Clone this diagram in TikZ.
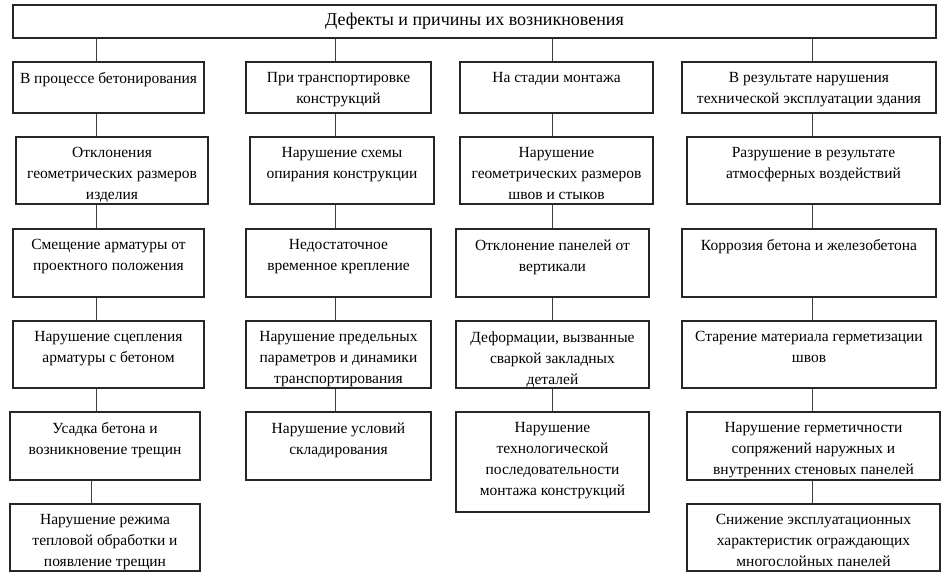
\documentclass[tikz,border=0pt]{standalone}
\usepackage{fontspec}
\setmainfont{Liberation Serif}
\newcommand\mybox[6]{%
  \node[box, minimum width={(#4-#2)*1pt}, minimum height={(#5-#3)*1pt}] (#1) at ({(#2+#4)/2},{(#3+#5)/2}) {};
  \node[txt] (#1t) at ([yshift=-11pt]#1.north) {#6};}
\begin{document}
\begin{tikzpicture}[x=1pt,y=-1pt,
  box/.style={draw=black!85, line width=1.2pt, inner sep=0pt},
  txt/.style={anchor=north, align=center, inner sep=0pt, font=\fontsize{15.5}{21}\selectfont},
  conn/.style={draw=black!75, line width=1pt}]
\useasboundingbox (0,0) rectangle (950,586);
\node[box, minimum width=923pt, minimum height=33pt, font=\fontsize{18}{21}\selectfont] (top) at (474.5,21.5) {Дефекты и причины их возникновения};
% column 1
\mybox{a1}{13}{62}{204}{113}{В процессе бетонирования}
\mybox{a2}{16}{137}{208}{204}{Отклонения\\геометрических размеров\\изделия}
\mybox{a3}{13}{229}{204}{297}{Смещение арматуры от\\проектного положения}
\mybox{a4}{13}{321}{204}{388}{Нарушение сцепления\\арматуры с бетоном}
\mybox{a5}{10}{412}{200}{480}{Усадка бетона и\\возникновение трещин}
\mybox{a6}{10}{504}{200}{571}{Нарушение режима\\тепловой обработки и\\появление трещин}
% column 2
\mybox{b1}{246}{62}{431}{113}{При транспортировке\\конструкций}
\mybox{b2}{250}{137}{434}{204}{Нарушение схемы\\опирания конструкции}
\mybox{b3}{246}{229}{431}{297}{Недостаточное\\временное крепление}
\mybox{b4}{246}{321}{431}{388}{Нарушение предельных\\параметров и динамики\\транспортирования}
\mybox{b5}{246}{412}{431}{480}{Нарушение условий\\складирования}
% column 3
\mybox{c1}{460}{62}{653}{113}{На стадии монтажа}
\mybox{c2}{460}{137}{653}{204}{Нарушение\\геометрических размеров\\швов и стыков}
\mybox{c3}{456}{229}{649}{297}{Отклонение панелей от\\вертикали}
\mybox{c4}{456}{321}{649}{388}{Деформации, вызванные\\сваркой закладных\\деталей}
\mybox{c5}{456}{412}{649}{512}{Нарушение\\технологической\\последовательности\\монтажа конструкций}
% column 4
\mybox{d1}{682}{62}{936}{113}{В результате нарушения\\технической эксплуатации здания}
\mybox{d2}{687}{137}{940}{204}{Разрушение в результате\\атмосферных воздействий}
\mybox{d3}{682}{229}{936}{297}{Коррозия бетона и железобетона}
\mybox{d4}{682}{321}{936}{388}{Старение материала герметизации\\швов}
\mybox{d5}{687}{412}{940}{480}{Нарушение герметичности\\сопряжений наружных и\\внутренних стеновых панелей}
\mybox{d6}{687}{504}{940}{571}{Снижение эксплуатационных\\характеристик ограждающих\\многослойных панелей}
% connector columns
\coordinate (k1) at (96,0);
\coordinate (k1b) at (91,0);
\coordinate (k2) at (335,0);
\coordinate (k3) at (552,0);
\coordinate (k4) at (812,0);
\draw[conn] (top.south -| k1) -- (a1.north -| k1);
\draw[conn] (top.south -| k2) -- (b1.north -| k2);
\draw[conn] (top.south -| k3) -- (c1.north -| k3);
\draw[conn] (top.south -| k4) -- (d1.north -| k4);
\draw[conn] (a1.south -| k1) -- (a2.north -| k1);
\draw[conn] (a2.south -| k1) -- (a3.north -| k1);
\draw[conn] (a3.south -| k1) -- (a4.north -| k1);
\draw[conn] (a4.south -| k1) -- (a5.north -| k1);
\draw[conn] (a5.south -| k1b) -- (a6.north -| k1b);
\draw[conn] (b1.south -| k2) -- (b2.north -| k2);
\draw[conn] (b2.south -| k2) -- (b3.north -| k2);
\draw[conn] (b3.south -| k2) -- (b4.north -| k2);
\draw[conn] (b4.south -| k2) -- (b5.north -| k2);
\draw[conn] (c1.south -| k3) -- (c2.north -| k3);
\draw[conn] (c2.south -| k3) -- (c3.north -| k3);
\draw[conn] (c3.south -| k3) -- (c4.north -| k3);
\draw[conn] (c4.south -| k3) -- (c5.north -| k3);
\draw[conn] (d1.south -| k4) -- (d2.north -| k4);
\draw[conn] (d2.south -| k4) -- (d3.north -| k4);
\draw[conn] (d3.south -| k4) -- (d4.north -| k4);
\draw[conn] (d4.south -| k4) -- (d5.north -| k4);
\draw[conn] (d5.south -| k4) -- (d6.north -| k4);
\end{tikzpicture}
\end{document}
